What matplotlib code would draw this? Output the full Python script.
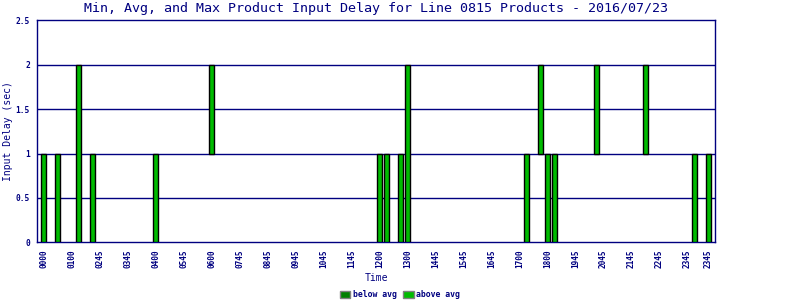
import matplotlib.pyplot as plt
from matplotlib.patches import Patch

# 15-minute slots across the day (0..95)
slots = [0, 2, 5, 7, 16, 24, 48, 49, 51, 52, 69, 71, 72, 73, 79, 86, 93, 95]
min_delay = [0, 0, 0, 0, 0, 1, 0, 0, 0, 0, 0, 1, 0, 0, 1, 1, 0, 0]
max_delay = [1, 1, 2, 1, 1, 2, 1, 1, 1, 2, 1, 2, 1, 1, 2, 2, 1, 1]

tick_slots = list(range(0, 93, 4)) + [95]
tick_labels = ["0000", "0100", "0245", "0345", "0400", "0545", "0600", "0745",
               "0845", "0945", "1045", "1145", "1200", "1300", "1445", "1545",
               "1645", "1700", "1800", "1945", "2045", "2145", "2245", "2345",
               "2345"]
y_ticks = [0, 0.5, 1, 1.5, 2, 2.5]
y_tick_labels = ["0", "0.5", "1", "1.5", "2", "2.5"]

NAVY = "#000080"
BELOW = "#008000"
ABOVE = "#00BB00"
MONO = "DejaVu Sans Mono"

fig = plt.figure(figsize=(8, 3), dpi=100)
ax = fig.add_axes([0.0459, 0.1923, 0.8482, 0.74])

heights = [hi - lo for lo, hi in zip(min_delay, max_delay)]
ax.bar(slots, heights, bottom=min_delay, width=0.75, color=ABOVE,
       edgecolor="black", linewidth=1.0, zorder=3)

ax.set_xlim(-0.97, 95.97)
ax.set_ylim(0, 2.5)

for y in [0.5, 1, 1.5, 2]:
    ax.axhline(y, color=NAVY, linewidth=1.0, zorder=1)

for s in ax.spines.values():
    s.set_color(NAVY)
    s.set_linewidth(1.0)

ax.set_xticks(tick_slots)
ax.set_xticklabels(tick_labels, rotation=90, family=MONO, fontsize=5.6,
                   fontweight="bold", color=NAVY)
ax.set_yticks(y_ticks)
ax.set_yticklabels(y_tick_labels, family=MONO, fontsize=5.7,
                   fontweight="bold", color=NAVY)
ax.tick_params(axis="x", length=0, pad=5)
ax.tick_params(axis="y", length=0, pad=5)

fig.text(0.0095, 0.563, "Input Delay (sec)", family=MONO, fontsize=7,
         color=NAVY, rotation=90, ha="center", va="center")
ax.set_xlabel("Time", family=MONO, fontsize=7, color=NAVY, labelpad=4)
fig.text(0.47, 0.972, "Min, Avg, and Max Product Input Delay for Line 0815 "
         "Products - 2016/07/23", family=MONO, fontsize=9.6, color=NAVY,
         ha="center", va="center")

handles = [Patch(facecolor=BELOW, edgecolor="gray", label="below avg"),
           Patch(facecolor=ABOVE, edgecolor="gray", label="above avg")]
fig.legend(handles=handles, loc="center", bbox_to_anchor=(0.5, 0.017),
           ncol=2, frameon=False, handlelength=1.3, handleheight=0.9,
           handletextpad=0.3, columnspacing=0.8,
           prop={"family": MONO, "size": 5.9, "weight": "bold"},
           labelcolor=NAVY)

fig.savefig("out.png", dpi=100)
